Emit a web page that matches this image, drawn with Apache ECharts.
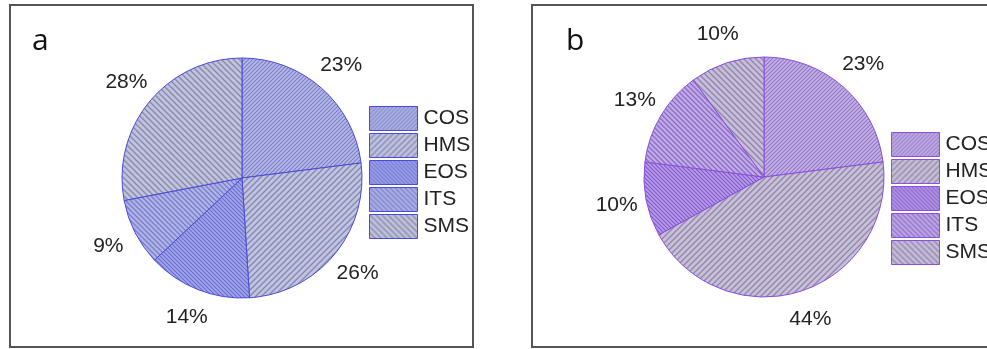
<!DOCTYPE html>
<html>
<head>
<meta charset="utf-8">
<script src="https://cdn.jsdelivr.net/npm/echarts@6/dist/echarts.min.js"></script>
<style>
  html, body { margin: 0; padding: 0; background: #fff; width: 987px; height: 349px; overflow: hidden; }
  #panelA { position: absolute; left: 0; top: 0; width: 487px; height: 349px; }
  #panelB { position: absolute; left: 487px; top: 0; width: 500px; height: 349px; }
</style>
</head>
<body>
<div id="panelA"></div>
<div id="panelB"></div>
<script>
// Source categories and their percentage shares for each site
const categories = ['COS', 'HMS', 'EOS', 'ITS', 'SMS'];
const sharesA = [23, 26, 14, 9, 28];
const sharesB = [23, 44, 10, 13, 10];
const panelLetters = ['a', 'b'];

// Diagonal hatch tile: dir '/' or '\\', s = tile size (stripe period)
function hatch(bg, fg, s, dir, lw) {
  const c = document.createElement('canvas');
  c.width = s; c.height = s;
  const g = c.getContext('2d');
  g.fillStyle = bg;
  g.fillRect(0, 0, s, s);
  g.strokeStyle = fg;
  g.lineWidth = lw;
  g.beginPath();
  if (dir === '/') {
    g.moveTo(-1, s + 1); g.lineTo(s + 1, -1);
    g.moveTo(-1, 1); g.lineTo(1, -1);
    g.moveTo(s - 1, s + 1); g.lineTo(s + 1, s - 1);
  } else {
    g.moveTo(-1, -1); g.lineTo(s + 1, s + 1);
    g.moveTo(s - 1, -1); g.lineTo(s + 1, 1);
    g.moveTo(-1, s - 1); g.lineTo(1, s + 1);
  }
  g.stroke();
  return { image: c, repeat: 'repeat' };
}

const stylesA = [
  hatch('#b7bbe6', '#7a7ecb', 4, '/', 1.2),
  hatch('#c0c3e2', '#878aad', 6, '/', 1.4),
  hatch('#a4a8ea', '#6a6ed2', 4, '\\', 1.2),
  hatch('#b1b4e6', '#7a7dcc', 5, '\\', 1.3),
  hatch('#c1c3de', '#898baa', 6, '\\', 1.4)
];
const stylesB = [
  hatch('#c6b4e6', '#9274c8', 4, '/', 1.2),
  hatch('#c8bfda', '#9189a6', 6, '/', 1.4),
  hatch('#b9a0e6', '#8256d0', 4, '\\', 1.2),
  hatch('#c2ace6', '#8c6ac8', 5, '\\', 1.3),
  hatch('#c8bddc', '#9088a6', 6, '\\', 1.4)
];

function buildOption(shares, styles, edge, letter, letterLeft, center, legendPos, frame) {
  return {
    animation: false,
    backgroundColor: '#fff',
    graphic: [
      { type: 'rect', shape: frame, style: { fill: 'none', stroke: '#555', lineWidth: 2 }, silent: true },
      { type: 'text', left: letterLeft, top: 26,
        style: { text: letter, fontSize: 30, fontFamily: 'Open Sans', fill: '#111' } }
    ],
    legend: {
      orient: 'vertical',
      left: legendPos[0], top: legendPos[1],
      padding: 0,
      itemWidth: 48, itemHeight: 24, itemGap: 2,
      icon: 'rect',
      selectedMode: false,
      data: categories,
      itemStyle: { borderColor: edge, borderWidth: 1 },
      textStyle: { fontSize: 21, fontFamily: 'Liberation Sans', color: '#222', padding: [0, 0, 0, 1] }
    },
    series: [{
      type: 'pie',
      center: center,
      radius: 120,
      startAngle: 90,
      clockwise: true,
      avoidLabelOverlap: false,
      data: categories.map((name, i) => ({ name, value: shares[i], itemStyle: { color: styles[i] } })),
      itemStyle: { borderColor: edge, borderWidth: 1 },
      label: {
        show: true, position: 'outside', formatter: '{c}%',
        fontSize: 21, fontFamily: 'Liberation Sans', color: '#222'
      },
      labelLine: { show: true, length: 30, length2: 0, lineStyle: { opacity: 0 } },
      labelLayout: function (p) {
        const pts = p.labelLinePoints;
        if (!pts) return {};
        const e = pts[pts.length - 1];
        return { x: e[0], y: e[1], align: 'center', verticalAlign: 'middle' };
      },
      emphasis: { disabled: true }
    }]
  };
}

const chartA = echarts.init(document.getElementById('panelA'), null, { renderer: 'canvas' });
chartA.setOption(buildOption(sharesA, stylesA, '#4a4ad6', panelLetters[0], 32,
  [242, 178], [369, 106], { x: 10, y: 5, width: 463, height: 342 }));

const chartB = echarts.init(document.getElementById('panelB'), null, { renderer: 'canvas' });
chartB.setOption(buildOption(sharesB, stylesB, '#8a4ee0', panelLetters[1], 79,
  [277, 177], [404, 132], { x: 45, y: 5, width: 600, height: 342 }));
</script>
</body>
</html>
